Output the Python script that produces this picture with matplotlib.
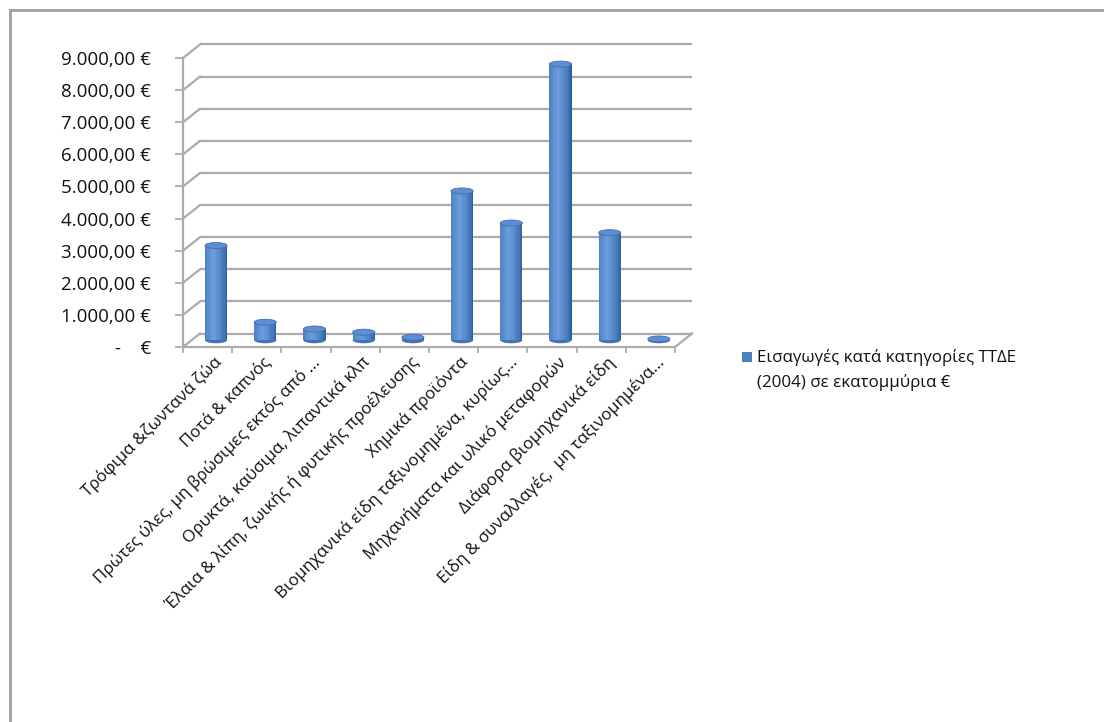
import numpy as np
import matplotlib
matplotlib.use("Agg")
import matplotlib.pyplot as plt
from matplotlib.transforms import offset_copy, IdentityTransform
from matplotlib.patches import Ellipse, Rectangle
from matplotlib.lines import Line2D
from matplotlib.colors import to_rgb

# ---------------- data ----------------
categories = [
    "Τρόφιμα &ζωντανά ζώα",
    "Ποτά & καπνός",
    "Πρώτες ύλες, μη βρώσιμες εκτός από ...",
    "Ορυκτά, καύσιμα, λιπαντικά κλπ",
    "Έλαια & λίπη, ζωικής ή φυτικής προέλευσης",
    "Χημικά προϊόντα",
    "Βιομηχανικά είδη ταξινομημένα, κυρίως...",
    "Μηχανήματα και υλικό μεταφορών",
    "Διάφορα βιομηχανικά είδη",
    "Είδη & συναλλαγές,  μη ταξινομημένα...",
]
values = [2950, 560, 350, 250, 90, 4650, 3650, 8600, 3350, 40]
y_ticks = [0, 1000, 2000, 3000, 4000, 5000, 6000, 7000, 8000, 9000]
series_label = "Εισαγωγές κατά κατηγορίες ΤΤΔΕ\n(2004) σε εκατομμύρια €"

plt.rcParams["font.family"] = ["Open Sans", "DejaVu Sans"]
FS = 12.2

W, H = 1104, 722
fig = plt.figure(figsize=(W / 100, H / 100), dpi=100)
fig.patch.set_facecolor("white")

X0, X1 = 183, 675
YTOP, YBOT = 58, 347
ax = fig.add_axes([X0 / W, 1 - YBOT / H, (X1 - X0) / W, (YBOT - YTOP) / H])
ax.set_xlim(0, len(categories))
ax.set_ylim(0, 9000)
ax.patch.set_alpha(0)
for s in ax.spines.values():
    s.set_visible(False)

DX, DY = 17, 13.5
back = offset_copy(ax.transData, fig=fig, x=DX, y=DY, units="dots")
mid = offset_copy(ax.transData, fig=fig, x=DX / 2, y=DY / 2, units="dots")
grid_c = "#ababab"
n = len(categories)

def seg(p0, p1, **kw):
    fig.add_artist(Line2D([p0[0], p1[0]], [p0[1], p1[1]],
                          transform=IdentityTransform(), **kw))

# back wall gridlines + left wall slants
for v in y_ticks:
    ax.plot([0, n], [v, v], color=grid_c, lw=1.6, transform=back,
            zorder=1, clip_on=False, solid_capstyle="butt")
    p = ax.transData.transform((0, v))
    seg(p, (p[0] + DX, p[1] + DY), color=grid_c, lw=1.6, zorder=1)

# floor front edge, left axis, floor right edge
ax.plot([0, n], [0, 0], color=grid_c, lw=1.6, clip_on=False, zorder=2)
ax.plot([0, 0], [0, 9000], color=grid_c, lw=1.6, clip_on=False, zorder=2)
pr = ax.transData.transform((n, 0))
seg(pr, (pr[0] + DX, pr[1] + DY), color=grid_c, lw=1.6, zorder=2)

# ticks
def fmt(v):
    if v == 0:
        return "-    €"
    s = f"{v:,.2f}".replace(",", "X").replace(".", ",").replace("X", ".")
    return s + " €"

ax.set_yticks(y_ticks)
ax.set_yticklabels([fmt(v) for v in y_ticks], fontsize=13.5, color="#111111")
ax.tick_params(axis="y", length=6, width=1.3, color=grid_c, pad=17)
ax.set_xticks(range(n + 1))
ax.set_xticklabels([])
ax.tick_params(axis="x", length=4, width=1.3, color=grid_c)

# cylinders
dark = np.array(to_rgb("#30619f"))
light = np.array(to_rgb("#6d9de0"))
NS = 18
w = 0.45
ell_h = 6 * 9000 / (YBOT - YTOP)
tcoord = np.linspace(-1, 1, NS)
cols = []
for t in tcoord:
    f = np.clip(1 - abs(t + 0.25) / 1.25, 0, 1)
    cols.append(tuple(dark + (light - dark) * f ** 0.7))
for i, v in enumerate(values):
    c = i + 0.5
    xs = c - w / 2 + (np.arange(NS) + 0.5) * w / NS
    ax.add_patch(Ellipse((c, 0), w, ell_h, transform=mid,
                         facecolor=tuple(dark * 0.7 + light * 0.3),
                         edgecolor="none", zorder=3))
    ax.bar(xs, [v] * NS, width=w / NS * 1.02, color=cols, linewidth=0,
           transform=mid, zorder=4)
    ax.add_patch(Ellipse((c, v), w, ell_h, transform=mid,
                         facecolor="#5d8fd2", edgecolor="#3f6fae",
                         lw=0.6, zorder=5))

# category labels
lab_tr = offset_copy(ax.transData, fig=fig, x=12, y=-13, units="dots")
for i, lab in enumerate(categories):
    ax.text(i + 0.5, 0, lab, transform=lab_tr, rotation=45, ha="right",
            va="center", rotation_mode="anchor", fontsize=FS,
            color="#111111", clip_on=False)

# legend (manual)
fig.add_artist(Rectangle((742 / W, 1 - 362 / H), 10 / W, 10 / H,
                         transform=fig.transFigure, facecolor="#4f81bd",
                         edgecolor="none"))
lines = series_label.split("\n")
fig.text(757 / W, 1 - 357 / H, lines[0], fontsize=FS, va="center",
         ha="left", color="#111111")
fig.text(757 / W, 1 - 382 / H, lines[1], fontsize=FS, va="center",
         ha="left", color="#111111")

# outer frame (top and left visible)
fig.add_artist(Line2D([10 / W, 1], [1 - 10 / H, 1 - 10 / H],
                      transform=fig.transFigure, color="#a0a0a0", lw=2))
fig.add_artist(Line2D([10 / W, 10 / W], [0, 1 - 10 / H],
                      transform=fig.transFigure, color="#a0a0a0", lw=2))

fig.savefig("out.png", dpi=100, facecolor="white")
